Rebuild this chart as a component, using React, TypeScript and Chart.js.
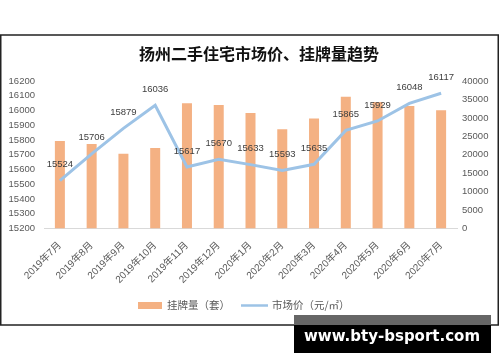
import React, { useEffect, useRef } from "react";
import { Chart, registerables } from "chart.js";

Chart.register(...registerables);

const titleText = "扬州二手住宅市场价、挂牌量趋势";
const categories = [
  "2019年7月", "2019年8月", "2019年9月", "2019年10月", "2019年11月", "2019年12月",
  "2020年1月", "2020年2月", "2020年3月", "2020年4月", "2020年5月", "2020年6月", "2020年7月",
];
const listingCounts = [23700, 22900, 20300, 21800, 34000, 33500, 31300, 26900, 29850, 35700, 34300, 33250, 32100];
const marketPrices = [15524, 15706, 15879, 16036, 15617, 15670, 15633, 15593, 15635, 15865, 15929, 16048, 16117];
const leftTicks = [15200, 15300, 15400, 15500, 15600, 15700, 15800, 15900, 16000, 16100, 16200];
const rightTicks = [0, 5000, 10000, 15000, 20000, 25000, 30000, 35000, 40000];
const barLabel = "挂牌量（套）";
const lineLabel = "市场价（元/㎡）";
const watermark = "www.bty-bsport.com";

const BAR_COLOR = "#F4B183";
const LINE_COLOR = "#9DC3E6";
const TEXT_COLOR = "#595959";
const FONT = "'Liberation Sans', 'Noto Sans CJK SC', sans-serif";
const CJK = "'Noto Sans CJK SC', sans-serif";

const decorPlugin = {
  id: "decor",
  afterDatasetsDraw(chart: any) {
    const ctx = chart.ctx;
    const meta = chart.getDatasetMeta(1);
    ctx.save();
    ctx.font = `9.5px ${FONT}`;
    ctx.fillStyle = "#404040";
    ctx.textAlign = "center";
    ctx.textBaseline = "middle";
    meta.data.forEach((pt: any, i: number) => {
      ctx.fillText(String(marketPrices[i]), pt.x, pt.y - 16);
    });
    ctx.restore();
  },
  afterDraw(chart: any) {
    const ctx = chart.ctx;
    ctx.save();
    // frame
    ctx.strokeStyle = "#222";
    ctx.lineWidth = 1.5;
    ctx.strokeRect(0.75, 35, 497.5, 290);
    // title
    ctx.fillStyle = "#111";
    ctx.font = `bold 16px ${CJK}`;
    ctx.textAlign = "center";
    ctx.textBaseline = "middle";
    ctx.fillText(titleText, 259, 54);
    // legend
    ctx.fillStyle = BAR_COLOR;
    ctx.fillRect(138, 302, 24, 7);
    ctx.font = `10.5px ${CJK}`;
    ctx.fillStyle = TEXT_COLOR;
    ctx.textAlign = "left";
    ctx.fillText(barLabel, 167, 305.5);
    ctx.strokeStyle = LINE_COLOR;
    ctx.lineWidth = 2.5;
    ctx.beginPath();
    ctx.moveTo(241, 305.5);
    ctx.lineTo(268, 305.5);
    ctx.stroke();
    ctx.fillText(lineLabel, 272, 305.5);
    // watermark
    ctx.fillStyle = "#666";
    ctx.fillRect(294, 315, 197, 10);
    ctx.fillStyle = "#000";
    ctx.fillRect(294, 325, 197, 28);
    ctx.fillStyle = "#fff";
    ctx.font = `bold 15px 'DejaVu Sans', sans-serif`;
    ctx.textAlign = "center";
    ctx.fillText(watermark, 392, 337, 178);
    ctx.restore();
  },
};

export default function App() {
  const ref = useRef<HTMLCanvasElement | null>(null);
  useEffect(() => {
    if (!ref.current) return;
    const chart = new Chart(ref.current, {
      type: "bar",
      data: {
        labels: categories,
        datasets: [
          {
            type: "bar",
            label: barLabel,
            data: listingCounts,
            backgroundColor: BAR_COLOR,
            yAxisID: "yR",
            categoryPercentage: 1,
            barPercentage: 0.315,
            order: 2,
          },
          {
            type: "line",
            label: lineLabel,
            data: marketPrices,
            borderColor: LINE_COLOR,
            borderWidth: 3,
            pointRadius: 0,
            tension: 0,
            yAxisID: "yL",
            order: 1,
          } as any,
        ],
      },
      options: {
        responsive: false,
        animation: false,
        layout: { padding: { top: 81, left: 0, right: 0, bottom: 0 } },
        plugins: { legend: { display: false }, title: { display: false }, tooltip: { enabled: false } },
        scales: {
          x: {
            grid: { display: false, drawTicks: false },
            border: { display: true, color: "#d9d9d9", width: 1 },
            ticks: {
              autoSkip: false,
              maxRotation: 45,
              minRotation: 45,
              color: TEXT_COLOR,
              font: { size: 10, family: FONT },
              padding: 11,
            },
            afterFit: (s: any) => { s.height = 133.5; },
          },
          yL: {
            type: "linear",
            position: "left",
            min: 15200,
            max: 16200,
            grid: { display: false, drawTicks: false },
            border: { display: false },
            ticks: { color: TEXT_COLOR, font: { size: 9.5, family: FONT }, padding: 9, callback: (v: any) => String(v) },
            afterBuildTicks: (s: any) => { s.ticks = leftTicks.map((v) => ({ value: v })); },
            afterFit: (s: any) => { s.width = 44; },
          },
          yR: {
            type: "linear",
            position: "right",
            min: 0,
            max: 40000,
            grid: { display: false, drawTicks: false },
            border: { display: false },
            ticks: { color: TEXT_COLOR, font: { size: 9.5, family: FONT }, padding: 5, callback: (v: any) => String(v) },
            afterBuildTicks: (s: any) => { s.ticks = rightTicks.map((v) => ({ value: v })); },
            afterFit: (s: any) => { s.width = 43; },
          },
        },
      } as any,
      plugins: [decorPlugin],
    });
    return () => chart.destroy();
  }, []);
  return (
    <div style={{ position: "fixed", left: 0, top: 0, width: 500, height: 362, background: "#fff" }}>
      <canvas ref={ref} width={500} height={362} style={{ display: "block" }} />
    </div>
  );
}
